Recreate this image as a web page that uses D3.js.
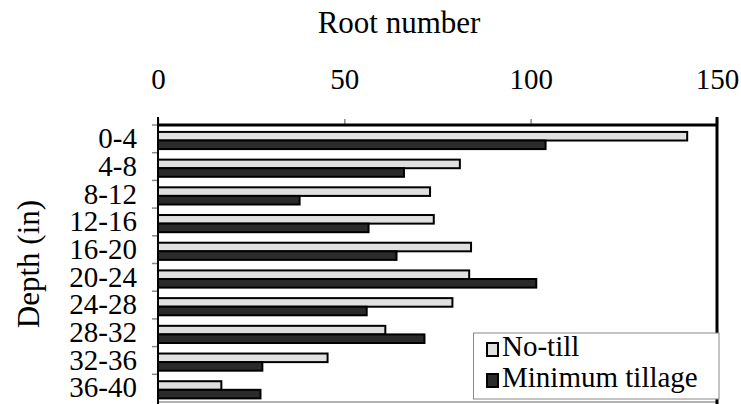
<!DOCTYPE html>
<html>
<head>
<meta charset="utf-8">
<script src="https://cdn.jsdelivr.net/npm/d3@7"></script>
<style>
  html, body { margin: 0; padding: 0; background: #fff; }
  svg { display: block; }
</style>
</head>
<body>
<svg id="chart" width="741" height="404"></svg>
<script>
const depths = ["0-4", "4-8", "8-12", "12-16", "16-20", "20-24", "24-28", "28-32", "32-36", "36-40"];
const seriesNames = ["No-till", "Minimum tillage"];
const noTill = [142, 81, 73, 74, 84, 83.5, 79, 61, 45.5, 17];
const minTill = [104, 66, 38, 56.5, 64, 101.5, 56, 71.5, 28, 27.5];
const xTicks = [0, 50, 100, 150];
const colors = ["#e0e0e0", "#2b2b2b"];
const FONT = '"Liberation Serif", "Times New Roman", serif';

const svg = d3.select("#chart");
const mLeft = 158, mRight = 717, mTop = 125, mBottom = 402;

const x = d3.scaleLinear().domain([0, 150]).range([mLeft, mRight]);
const y = d3.scaleBand().domain(depths).range([mTop, mBottom]).padding(0);
const ySub = d3.scaleBand().domain(seriesNames)
  .range([y.bandwidth() * 0.25, y.bandwidth() * 0.87]).padding(0);

const rows = depths.map((d, i) => ({ depth: d, values: [noTill[i], minTill[i]] }));

// bottom gray line
svg.append("line").attr("x1", mLeft).attr("x2", mRight).attr("y1", mBottom).attr("y2", mBottom)
  .attr("stroke", "#999").attr("stroke-width", 1.5);

// bars
const g = svg.append("g");
rows.forEach(r => {
  r.values.forEach((v, j) => {
    g.append("rect")
      .attr("x", x(0))
      .attr("y", y(r.depth) + ySub(seriesNames[j]))
      .attr("width", x(v) - x(0))
      .attr("height", ySub.bandwidth())
      .attr("fill", colors[j])
      .attr("stroke", "#000")
      .attr("stroke-width", 2);
  });
});

// top axis
const xAxis = d3.axisTop(x).tickValues(xTicks).tickSize(6).tickPadding(30).tickFormat(d3.format("d"));
const gx = svg.append("g").attr("transform", `translate(0,${mTop})`).call(xAxis);
gx.select(".domain").remove();
gx.selectAll(".tick line").attr("stroke", "#888").attr("stroke-width", 1.5);
gx.selectAll(".tick text").style("font-size", "29px").style("font-family", FONT).attr("fill", "#000");
svg.append("line").attr("x1", mLeft - 1).attr("x2", mRight + 1).attr("y1", mTop).attr("y2", mTop)
  .attr("stroke", "#000").attr("stroke-width", 3);

// left axis
const yAxis = d3.axisLeft(y).tickSize(0).tickPadding(21);
const gy = svg.append("g").attr("transform", `translate(${mLeft},0)`).call(yAxis);
gy.select(".domain").remove();
gy.selectAll(".tick text").style("font-size", "29px").style("font-family", FONT).attr("fill", "#000");
// boundary ticks
svg.append("g").selectAll("line").data(depths).join("line")
  .attr("x1", mLeft - 6).attr("x2", mLeft)
  .attr("y1", d => y(d)).attr("y2", d => y(d))
  .attr("stroke", "#888").attr("stroke-width", 1.5);
svg.append("line").attr("x1", mLeft).attr("x2", mLeft).attr("y1", mTop - 8).attr("y2", mBottom + 2)
  .attr("stroke", "#000").attr("stroke-width", 2);

// right border
svg.append("line").attr("x1", mRight).attr("x2", mRight).attr("y1", mTop - 8).attr("y2", mBottom + 2)
  .attr("stroke", "#000").attr("stroke-width", 3);

// titles
svg.append("text").attr("x", 399).attr("y", 33).attr("text-anchor", "middle")
  .style("font-family", FONT).style("font-size", "31px").text("Root number");
svg.append("text").attr("transform", `translate(39,${264}) rotate(-90)`)
  .attr("text-anchor", "middle").style("font-family", FONT).style("font-size", "31px").text("Depth (in)");

// legend
const lg = svg.append("g");
lg.append("rect").attr("x", 473.5).attr("y", 333).attr("width", 245.5).attr("height", 66)
  .attr("fill", "#fff").attr("stroke", "#888").attr("stroke-width", 1);
seriesNames.forEach((s, i) => {
  const yy = 343 + i * 31;
  lg.append("rect").attr("x", 487).attr("y", yy).attr("width", 11).attr("height", 13)
    .attr("fill", colors[i]).attr("stroke", "#000").attr("stroke-width", 2);
  lg.append("text").attr("x", 502).attr("y", yy + 13)
    .style("font-family", FONT).style("font-size", "29px").text(s);
});
</script>
</body>
</html>
